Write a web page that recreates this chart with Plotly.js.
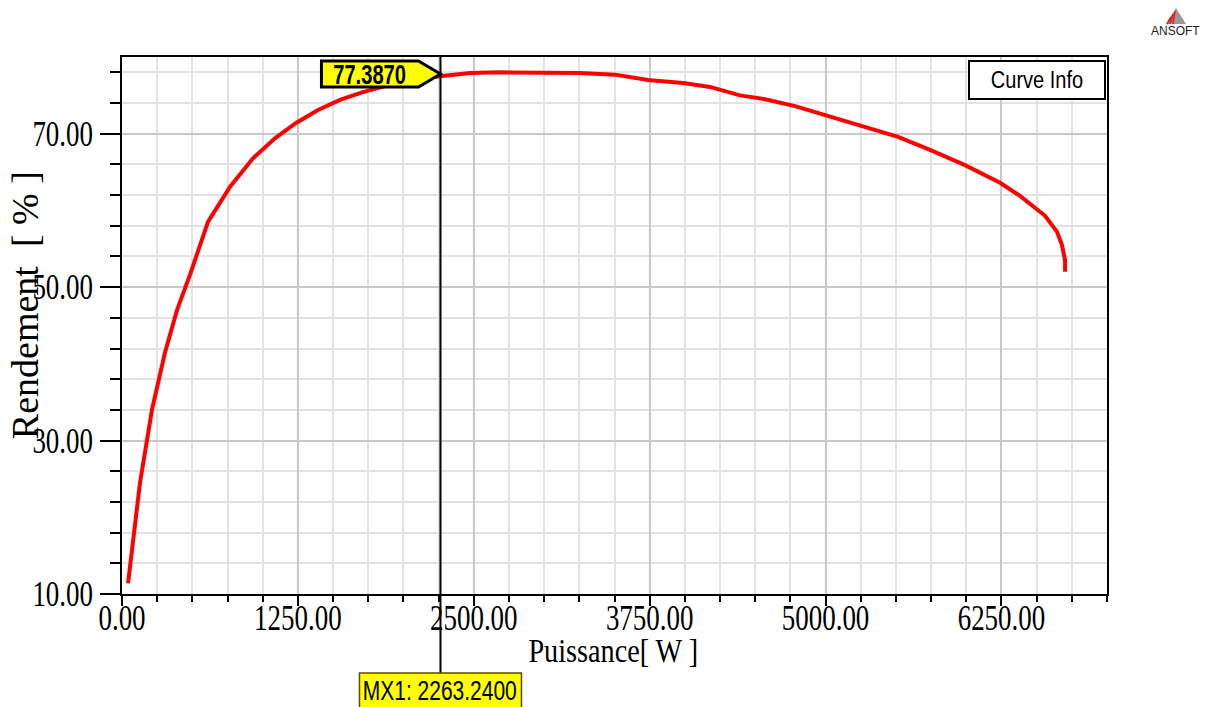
<!DOCTYPE html>
<html>
<head>
<meta charset="utf-8">
<script src="https://cdn.plot.ly/plotly-3.0.1.min.js"></script>
<style>
  html, body { margin: 0; padding: 0; background: #fff; }
  #chart { width: 1207px; height: 707px; }
</style>
</head>
<body>
<div id="chart"></div>
<script>
// ---- data ----
const powerW = [43, 128, 213, 306, 391, 483, 611, 768, 931, 1087, 1237, 1393, 1549, 1706, 1869, 2047, 2260, 2473, 2686, 3006, 3255, 3504, 3738, 3987, 4179, 4392, 4570, 4783, 4996, 5245, 5515, 5742, 5991, 6240, 6382, 6560, 6645, 6680, 6702, 6702];
const efficiency = [11.4, 24.5, 34.0, 41.5, 47.0, 51.6, 58.5, 63.1, 66.8, 69.4, 71.4, 73.1, 74.4, 75.4, 76.2, 77.0, 77.5, 77.9, 78.0, 78.0, 77.9, 77.7, 77.0, 76.6, 76.1, 75.0, 74.5, 73.6, 72.4, 71.1, 69.6, 67.9, 65.9, 63.6, 61.9, 59.3, 57.2, 55.5, 53.5, 52.0];
const markerX = 2263.24;
const markerY = 77.387;
const xTitle = 'Puissance[ W ]';
const yTitle = 'Rendement  [ % ]';
const legendTitle = 'Curve Info';
const brand = 'ANSOFT';

const serif = 'Liberation Serif, Times New Roman, serif';
const sans = 'Liberation Sans, Arial, sans-serif';

const trace = {
  x: powerW, y: efficiency, type: 'scatter', mode: 'lines',
  line: { color: '#ff0000', width: 4 }, hoverinfo: 'skip', showlegend: false
};

const axisCommon = {
  showline: true, mirror: true, linecolor: '#000', linewidth: 2,
  ticks: 'outside', tickcolor: '#000', tickwidth: 2,
  tickfont: { family: serif, size: 35, color: '#000' },
  tickformat: '.2f', zeroline: false, gridwidth: 2, gridcolor: '#c8c8c8'
};

const layout = {
  width: 1207, height: 707,
  margin: { l: 122, r: 100, t: 57, b: 113 },
  paper_bgcolor: '#fff', plot_bgcolor: '#fff',
  showlegend: false,
  xaxis: Object.assign({}, axisCommon, {
    range: [0, 7000], tick0: 0, dtick: 1250, ticklen: 10, ticklabelstandoff: -18,
    minor: { dtick: 250, tick0: 0, ticks: 'outside', ticklen: 6, tickwidth: 2, tickcolor: '#000', showgrid: true, gridcolor: '#e3e3e3', gridwidth: 2 }
  }),
  yaxis: Object.assign({}, axisCommon, {
    range: [10, 80], tick0: 10, dtick: 20, ticklen: 20,
    minor: { dtick: 4, tick0: 10, ticks: 'outside', ticklen: 10, tickwidth: 2, tickcolor: '#000', showgrid: true, gridcolor: '#e3e3e3', gridwidth: 2 }
  }),
  shapes: [
    // marker line
    { type: 'line', xref: 'x', yref: 'paper', x0: markerX, x1: markerX, y0: -0.147, y1: 1, line: { color: '#000', width: 2 }, layer: 'above' },
    // callout
    { type: 'path', xref: 'x', yref: 'y', xsizemode: 'pixel', ysizemode: 'pixel', xanchor: markerX, yanchor: markerY,
      path: 'M -119,16 L -22,16 L 0,3 L -22,-10 L -119,-10 Z', fillcolor: '#ffff00', line: { color: '#000', width: 3 }, layer: 'above' },
    // MX1 box
    { type: 'rect', xref: 'x', yref: 'paper', xsizemode: 'pixel', ysizemode: 'pixel', xanchor: markerX, yanchor: -0.147,
      x0: -81, x1: 81, y0: 0, y1: -45, fillcolor: '#ffff00', line: { color: '#5a4a00', width: 1.5 }, layer: 'above' },
    // logo
    { type: 'path', xref: 'paper', yref: 'paper', xsizemode: 'pixel', ysizemode: 'pixel', xanchor: 1, yanchor: 1,
      path: 'M 59,33 L 69,49 L 79,33 Z', fillcolor: '#9a9a9a', line: { width: 0 } },
    { type: 'path', xref: 'paper', yref: 'paper', xsizemode: 'pixel', ysizemode: 'pixel', xanchor: 1, yanchor: 1,
      path: 'M 60,33 L 64,40 M 63,33 L 66,43 M 66,33 L 68,46', line: { color: '#e02020', width: 1.6 } }
  ],
  annotations: [
    { text: '<b>77.3870</b>', xref: 'x', yref: 'y', x: markerX, y: markerY, xanchor: 'center', yanchor: 'middle',
      xshift: -71, yshift: 3, showarrow: false, font: { family: sans, size: 28, color: '#000' } },
    { text: legendTitle, xref: 'paper', yref: 'paper', x: 0.999, y: 0.994, xanchor: 'right', yanchor: 'top',
      showarrow: false, width: 134, height: 36, borderwidth: 2, borderpad: 0, bordercolor: '#000', bgcolor: '#fff',
      font: { family: sans, size: 23, color: '#000' } },
    { text: 'MX1: ' + markerX.toFixed(4), xref: 'x', yref: 'paper', x: markerX, y: -0.1788, xanchor: 'center', yanchor: 'middle',
      showarrow: false, font: { family: sans, size: 28, color: '#000' } },
    { text: xTitle, xref: 'paper', yref: 'paper', x: 0.4985, y: -0.1045, xanchor: 'center', yanchor: 'middle',
      showarrow: false, font: { family: serif, size: 34, color: '#000' } },
    { text: yTitle, xref: 'paper', yref: 'paper', x: -0.0984, y: 0.538, xanchor: 'center', yanchor: 'middle',
      textangle: -90, showarrow: false, font: { family: serif, size: 38, color: '#000' } },
    { text: brand, xref: 'paper', yref: 'paper', x: 1.070, y: 1.048, xanchor: 'center', yanchor: 'middle',
      showarrow: false, font: { family: sans, size: 12, color: '#222' } }
  ]
};

function squish(nodes, s) {
  nodes.forEach(t => {
    const x = parseFloat(t.getAttribute('x')) || 0;
    const cur = t.getAttribute('transform') || '';
    t.setAttribute('transform', cur + ' translate(' + x + ',0) scale(' + s + ',1) translate(' + (-x) + ',0)');
  });
}

Plotly.newPlot('chart', [trace], layout, { displayModeBar: false, staticPlot: true }).then(gd => {
  squish(gd.querySelectorAll('.xtick text, .ytick text'), 0.77);
  const ann = (i) => gd.querySelectorAll('.annotation[data-index="' + i + '"] text.annotation-text');
  squish(ann(0), 0.72);
  squish(ann(1), 0.87);
  squish(ann(2), 0.75);
  squish(ann(3), 0.83);
});
</script>
</body>
</html>
